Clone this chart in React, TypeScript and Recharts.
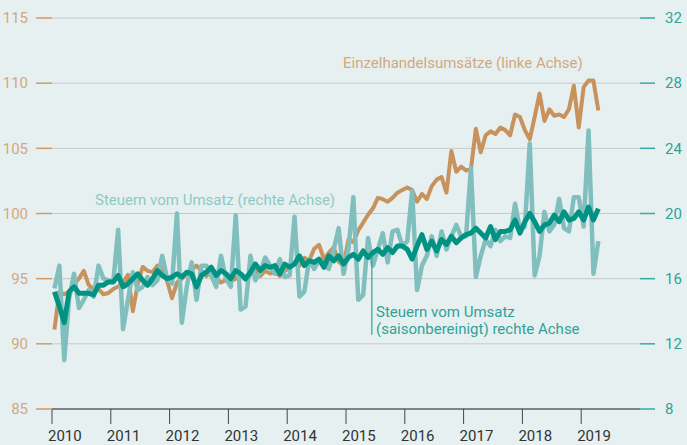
import { LineChart, Line, XAxis, YAxis, CartesianGrid, ReferenceLine } from "recharts";

// monthly values, Jan 2010 .. Apr 2019
const START_YEAR = 2010;

const retail = [
  91.1, 94.0, 93.8, 94.0, 94.6, 95.0, 95.6, 94.5, 94.2, 94.2, 93.8, 93.9,
  94.2, 94.4, 94.7, 95.3, 92.5, 94.6, 95.9, 95.6, 95.5, 96.0, 95.8, 94.8,
  93.5, 94.7, 95.0, 95.4, 95.7, 96.0, 95.6, 95.2, 95.5, 95.0, 94.7, 94.9,
  94.8, 95.0, 95.3, 94.9, 95.3, 95.6, 95.2, 95.6, 95.4, 95.5, 95.2, 95.6,
  95.8, 96.2, 96.0, 96.6, 96.4, 97.3, 97.6, 96.5, 97.0, 97.4, 96.3, 96.0,
  98.0, 97.8, 98.7, 99.3, 99.9, 100.4, 101.2, 101.1, 100.9, 101.2, 101.6, 101.8,
  102.0, 101.8, 100.9, 101.5, 101.1, 102.1, 102.6, 102.8, 101.6, 104.8, 103.2, 103.6,
  103.3, 103.4, 106.5, 104.7, 106.0, 106.3, 106.1, 106.6, 106.4, 106.0, 107.6, 107.4,
  106.4, 105.7, 107.4, 109.2, 107.1, 108.0, 107.5, 107.6, 107.4, 108.0, 109.8, 106.6,
  109.7, 110.2, 110.2, 107.9,
];

const vatRaw = [
  15.4, 16.8, 11.0, 14.8, 16.3, 14.2, 14.7, 15.3, 14.9, 16.8, 16.0, 15.9,
  15.8, 19.0, 12.9, 14.7, 16.4, 15.3, 15.5, 16.1, 15.6, 15.9, 17.4, 16.0,
  15.7, 20.0, 13.3, 15.5, 17.0, 14.7, 16.8, 16.8, 16.2, 15.5, 17.4, 16.0,
  15.5, 19.9, 14.1, 14.3, 17.4, 15.9, 16.4, 17.3, 16.8, 16.3, 17.2, 16.1,
  16.2, 19.8, 14.9, 15.2, 17.2, 16.6, 17.1, 16.9, 16.6, 17.8, 19.1, 16.3,
  17.8, 21.0, 14.7, 15.0, 18.5, 16.8, 17.8, 18.8, 17.0, 18.9, 19.0, 18.0,
  18.3, 21.4, 15.3, 16.8, 17.4, 18.6, 17.4, 18.9, 17.8, 18.6, 19.3, 18.6,
  18.6, 22.8, 16.1, 17.4, 18.4, 18.0, 19.0, 18.3, 18.6, 18.5, 20.6, 19.0,
  19.2, 24.3, 16.2, 17.4, 20.1, 18.9, 19.3, 20.9, 19.1, 18.9, 21.0, 21.0,
  19.2, 25.1, 16.3, 18.3,
];

const vatAdjusted = [
  15.2, 14.3, 13.3, 15.2, 15.5, 15.1, 15.1, 15.1, 15.0, 15.6, 15.6, 15.8,
  15.8, 16.2, 15.5, 15.7, 16.0, 16.3, 15.9, 15.6, 16.0, 16.5, 16.2, 16.0,
  16.1, 16.3, 16.1, 16.4, 16.3, 15.5, 16.2, 16.4, 16.7, 16.2, 16.5, 16.3,
  16.0, 16.5, 16.3, 16.0, 16.4, 16.9, 16.5, 16.8, 16.7, 16.8, 16.3, 16.9,
  16.7, 16.9, 17.4, 16.8, 17.1, 17.0, 17.2, 16.7, 17.4, 17.1, 17.4, 16.9,
  17.3, 17.5, 17.2, 17.7, 17.3, 17.6, 17.8, 17.5, 17.9, 17.6, 18.0, 18.0,
  17.8, 17.2, 18.0, 18.7, 17.8, 18.3, 17.7, 18.4, 18.1, 18.6, 18.2, 18.5,
  18.7, 18.8, 19.1, 18.8, 18.5, 19.2, 18.4, 18.9, 18.9, 19.0, 19.6, 18.8,
  19.5, 20.0, 19.5, 18.9, 19.3, 19.4, 19.9, 19.5, 20.1, 19.6, 19.7, 20.1,
  19.6, 20.4, 19.6, 20.3,
];

const yearTicks = [2010, 2011, 2012, 2013, 2014, 2015, 2016, 2017, 2018, 2019];
const leftTicks = [85, 90, 95, 100, 105, 110, 115];
const rightTicks = [8, 12, 16, 20, 24, 28, 32];

// month i plotted at mid-month
const data = retail.map((v, i) => ({
  t: START_YEAR + (i + 0.5) / 12,
  retail: v,
  vat: vatRaw[i],
  vatSa: vatAdjusted[i],
}));

const TAN = "#c8925d";
const TAN_TEXT = "#d2a87d";
const LIGHT_TEAL = "#80bfbd";
const DARK_TEAL = "#009383";
const TEAL_TEXT = "#2fa398";
const FONT = "Roboto, sans-serif";

// year labels sit just right of their tick
function YearTick({ x, y, payload }: any) {
  return (
    <text x={x - 4} y={y + 13} textAnchor="start" fontSize={15} fill="#333" fontFamily={FONT}>
      {payload.value}
    </text>
  );
}

export default function App() {
  return (
    <div
      style={{
        position: "absolute",
        left: 0,
        top: 0,
        width: 687,
        height: 445,
        background: "#e7f0f1",
        fontFamily: FONT,
      }}
    >
      <LineChart
        width={687}
        height={445}
        data={data}
        margin={{ top: 18, right: 0, left: 0, bottom: 0 }}
      >
        <CartesianGrid vertical={false} stroke="#c6c9ca" yAxisId="left" />
        <XAxis
          dataKey="t"
          type="number"
          domain={[2010, 2020]}
          ticks={yearTicks}
          height={36}
          tickSize={15}
          tickMargin={4}
          stroke="#555"
          tick={<YearTick />}
          tickLine={{ stroke: "#444" }}
          axisLine={{ stroke: "#666", strokeWidth: 1.5 }}
          allowDataOverflow
        />
        <YAxis
          yAxisId="left"
          orientation="left"
          domain={[85, 115]}
          ticks={leftTicks}
          width={52}
          tickSize={16}
          tickMargin={8}
          axisLine={false}
          tickLine={{ stroke: "#d09a66", strokeWidth: 1.5 }}
          tick={{ fontSize: 15, fill: TAN_TEXT, fontFamily: FONT }}
        />
        <YAxis
          yAxisId="right"
          orientation="right"
          domain={[8, 32]}
          ticks={rightTicks}
          width={47}
          tickSize={15}
          tickMargin={10}
          axisLine={false}
          tickLine={{ stroke: "#3aa8a0", strokeWidth: 1.5 }}
          tick={{ fontSize: 15, fill: TEAL_TEXT, fontFamily: FONT }}
        />
        <Line
          yAxisId="left"
          dataKey="retail"
          type="linear"
          stroke={TAN}
          strokeWidth={4}
          dot={false}
          strokeLinejoin="round"
          isAnimationActive={false}
        />
        <Line
          yAxisId="right"
          dataKey="vat"
          type="linear"
          stroke={LIGHT_TEAL}
          strokeWidth={4.5}
          dot={false}
          strokeLinejoin="round"
          isAnimationActive={false}
        />
        <Line
          yAxisId="right"
          dataKey="vatSa"
          type="linear"
          stroke={DARK_TEAL}
          strokeWidth={5}
          dot={false}
          strokeLinejoin="round"
          isAnimationActive={false}
        />
        <ReferenceLine
          yAxisId="right"
          segment={[
            { x: 2015.44, y: 17.4 },
            { x: 2015.44, y: 12.55 },
          ]}
          stroke={TEAL_TEXT}
          strokeWidth={1.2}
        />
      </LineChart>
      <div
        style={{
          position: "absolute",
          left: 343,
          top: 54,
          fontSize: 15,
          color: TAN_TEXT,
          whiteSpace: "nowrap",
        }}
      >
        Einzelhandelsumsätze (linke Achse)
      </div>
      <div
        style={{
          position: "absolute",
          left: 95,
          top: 191,
          fontSize: 15,
          color: "#8ccac5",
          whiteSpace: "nowrap",
        }}
      >
        Steuern vom Umsatz (rechte Achse)
      </div>
      <div
        style={{
          position: "absolute",
          left: 376,
          top: 304,
          fontSize: 15,
          lineHeight: "17px",
          color: TEAL_TEXT,
          whiteSpace: "nowrap",
        }}
      >
        Steuern vom Umsatz
        <br />
        (saisonbereinigt) rechte Achse
      </div>
    </div>
  );
}
